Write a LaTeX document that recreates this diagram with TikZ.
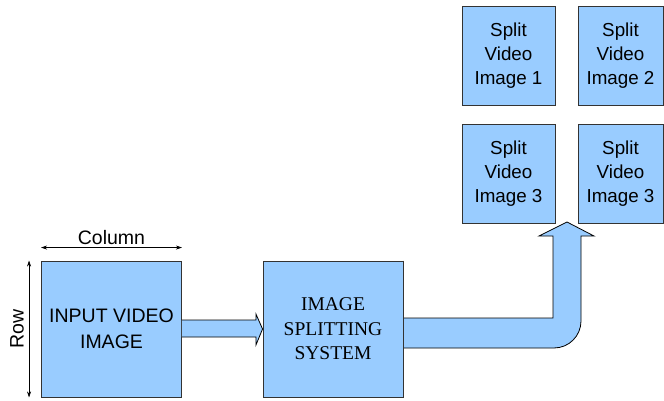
\documentclass[tikz,border=0pt]{standalone}
\usepackage{fontspec}
\setmainfont{Liberation Sans}
\newfontfamily\serifx{Liberation Serif}
\usetikzlibrary{calc,arrows.meta}
\definecolor{boxblue}{HTML}{99CCFF}
\definecolor{edge}{HTML}{333333}
\begin{document}
\begin{tikzpicture}[x=1pt,y=-1pt,
  blk/.style={draw=edge,line width=0.9pt,fill=boxblue,inner sep=0pt,align=center,
    font=\fontsize{18.8}{24}\selectfont},
  bigbox/.style={blk,minimum width=140pt,minimum height=136pt},
  smallbox/.style={blk,minimum width=93pt,minimum height=99pt},
  blockarrow/.style={draw=black,line width=0.8pt,fill=boxblue,line join=miter},
  dim/.style={draw=black,line width=0.6pt,{Stealth[length=6pt,width=4pt]}-{Stealth[length=6pt,width=4pt]}},
  lbl/.style={font=\fontsize{19.5}{22}\selectfont,inner sep=0pt}]
\useasboundingbox (0,0) rectangle (664,401);
% boxes
\node[bigbox,font=\fontsize{19.5}{26}\selectfont] (in) at (111.5,329) {INPUT VIDEO\\IMAGE};
\node[bigbox,font=\serifx\fontsize{19.5}{24.5}\selectfont] (sys) at (333,329) {IMAGE\\SPLITTING\\SYSTEM};
\node[smallbox] (s1) at (508.5,55.5) {Split\\Video\\Image 1};
\node[smallbox,minimum width=85pt] (s2) at (620.5,55.5) {Split\\Video\\Image 2};
\node[smallbox] (s3) at (508.5,173.5) {Split\\Video\\Image 3};
\node[smallbox,minimum width=85pt] (s4) at (620.5,173.5) {Split\\Video\\Image 3};
% arrow 1
\draw[blockarrow] ($(in.east)+(0,-9)$) -- ++(74,0) -- ++(0,-6) -- (sys.west)
  -- ($(in.east)+(74,16)$) -- ++(0,-8) -- ($(in.east)+(0,8)$);
% arrow 2
\coordinate (tip) at (567,222);
\draw[blockarrow] ($(sys.east)+(0,-11)$) -- (553,318) -- (553,236) -- (539,236) -- (tip)
  -- (594,236) -- (581,236) -- (581,321) arc[start angle=0,end angle=90,radius=27]
  -- ($(sys.east)+(0,19)$);
\draw[draw=edge,line width=0.9pt] (sys.north east) -- (sys.south east);
% dimensions
\coordinate (c1) at ($(in.north west)+(0,-13)$);
\coordinate (c2) at ($(in.north east)+(0,-13)$);
\draw[dim] (c1) -- node[lbl,above=3pt] (col) {Column} (c2);
\coordinate (r1) at ($(in.north west)+(-12,0)$);
\coordinate (r2) at ($(in.south west)+(-12,0)$);
\draw[dim] (r1) -- node[lbl,rotate=90,above=5pt,anchor=south] (row) {Row} (r2);
\end{tikzpicture}
\end{document}
